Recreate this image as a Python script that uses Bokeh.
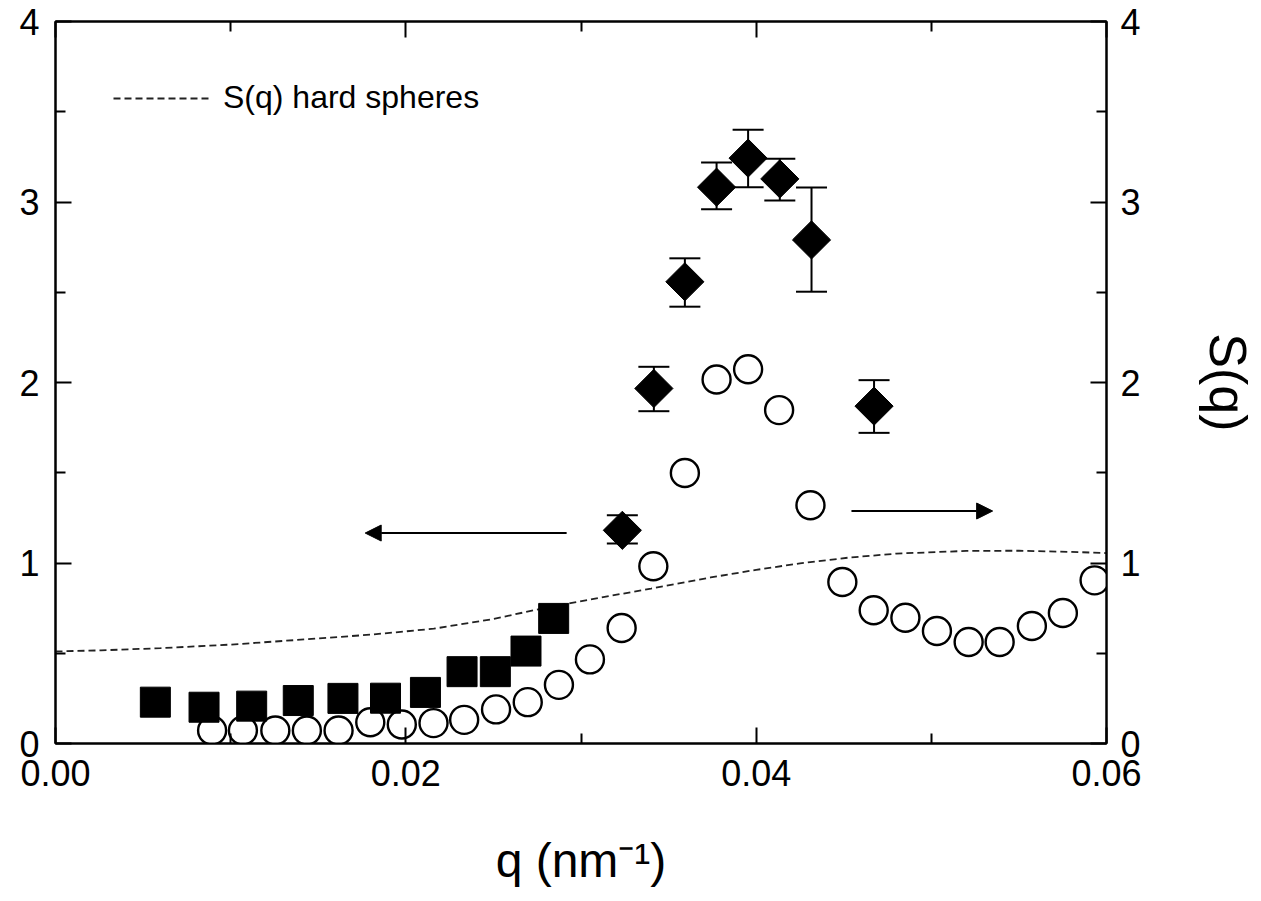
import numpy as np
from bokeh.plotting import figure
from bokeh.models import (ColumnDataSource, LinearAxis, Range1d, Whisker, TeeHead, Arrow,
                          NormalHead, Legend, LegendItem, FixedTicker,
                          PrintfTickFormatter, CustomJSTickFormatter)
from bokeh.embed import file_html
from bokeh.resources import INLINE

# ---------------- data ----------------
# hard-sphere structure factor (dashed curve)
hs_q = [0.0, 0.0026, 0.006, 0.010, 0.014, 0.018, 0.0216, 0.025, 0.0273, 0.0294,
        0.0311, 0.034, 0.0374, 0.040, 0.0425, 0.0453, 0.048, 0.052, 0.055, 0.0585, 0.060]
hs_s = [0.510, 0.516, 0.528, 0.548, 0.575, 0.603, 0.636, 0.690, 0.738, 0.778,
        0.808, 0.858, 0.920, 0.962, 0.998, 1.030, 1.052, 1.067, 1.068, 1.060, 1.055]

# filled squares (left axis)
sq_q = [0.00570, 0.00848, 0.01120, 0.01386, 0.01641, 0.01884, 0.02112, 0.02321,
        0.02511, 0.02686, 0.02844]
sq_s = [0.229, 0.201, 0.207, 0.238, 0.250, 0.251, 0.283, 0.398, 0.398, 0.512, 0.693]

# filled diamonds with error bars (left axis)
dm_q = [0.03236, 0.03416, 0.03593, 0.03774, 0.03954, 0.04135, 0.04316, 0.04673]
dm_s = [1.181, 1.967, 2.558, 3.082, 3.243, 3.128, 2.790, 1.869]
dm_hi = [1.265, 2.087, 2.688, 3.219, 3.400, 3.239, 3.080, 2.013]
dm_lo = [1.108, 1.841, 2.420, 2.960, 3.082, 3.008, 2.503, 1.721]

# open circles (right axis, S(q))
oc_q = [0.00894, 0.01070, 0.01255, 0.01435, 0.01616, 0.01797, 0.01977, 0.02158,
        0.02333, 0.02515, 0.02696, 0.02874, 0.03051, 0.03232, 0.03413, 0.03593,
        0.03774, 0.03954, 0.04131, 0.04310, 0.04492, 0.04671, 0.04852, 0.05032,
        0.05213, 0.05390, 0.05574, 0.05751, 0.05932, 0.06112]
oc_s = [0.072, 0.072, 0.072, 0.072, 0.072, 0.118, 0.105, 0.113, 0.131, 0.189,
        0.229, 0.325, 0.466, 0.640, 0.982, 1.499, 2.017, 2.073, 1.847, 1.320,
        0.895, 0.738, 0.697, 0.623, 0.562, 0.562, 0.651, 0.723, 0.904, 1.006]

x_ticks = [0.0, 0.02, 0.04, 0.06]
x_minor = [0.01, 0.03, 0.05]
y_ticks = [0, 1, 2, 3, 4]
y_minor = [0.5, 1.5, 2.5, 3.5]

# arrows: (x_start, x_end, y)
arrow_left = (0.02918, 0.01768, 1.166)
arrow_right = (0.04544, 0.05350, 1.288)

x_label = "q (nm\u207b\u00b9)"
y2_label = "S(q)"
legend_label = "S(q) hard spheres"

FONT = "Liberation Sans"

p = figure(width=1261, height=901, x_range=Range1d(0, 0.06), y_range=Range1d(0, 4),
           output_backend="svg", toolbar_location=None,
           min_border_left=55, min_border_right=155, min_border_top=21, min_border_bottom=158)
p.xgrid.visible = False
p.ygrid.visible = False
p.outline_line_color = "black"
p.outline_line_width = 2
p.background_fill_color = "white"
p.border_fill_color = "white"

p.add_layout(LinearAxis(), "above")
p.add_layout(LinearAxis(), "right")

def style(ax, ticks, minor, show_labels=True):
    ax.ticker = FixedTicker(ticks=ticks, minor_ticks=minor)
    ax.axis_line_color = "black"
    ax.axis_line_width = 2
    ax.major_tick_in = 16
    ax.major_tick_out = 0
    ax.minor_tick_in = 10
    ax.minor_tick_out = 0
    ax.major_tick_line_width = 2
    ax.minor_tick_line_width = 2
    ax.major_tick_line_color = "black"
    ax.minor_tick_line_color = "black"
    ax.major_label_text_font = FONT
    ax.major_label_text_font_size = "36px"
    ax.major_label_text_color = "black"
    ax.axis_label_text_font = FONT
    ax.axis_label_text_font_style = "normal"
    ax.axis_label_text_color = "black"
    if not show_labels:
        ax.formatter = CustomJSTickFormatter(code="return ''")

for ax in p.below:
    style(ax, x_ticks, x_minor)
    ax.formatter = PrintfTickFormatter(format="%.2f")
    ax.major_label_standoff = 16
    ax.axis_label = x_label
    ax.axis_label_text_font_size = "48px"
    ax.axis_label_standoff = 45
for ax in p.above:
    style(ax, x_ticks, x_minor, show_labels=False)
    ax.major_label_standoff = 0
for ax in p.left:
    style(ax, y_ticks, y_minor)
    ax.major_label_standoff = 16
for ax in p.right:
    style(ax, y_ticks, y_minor)
    ax.major_label_standoff = 14
    ax.axis_label = y2_label
    ax.axis_label_text_font_size = "52px"
    ax.axis_label_standoff = 55

# hard spheres dashed curve
hs = p.line(hs_q, hs_s, line_color="#222222", line_width=1.8, line_dash="7 4")

# open circles (right axis)
p.scatter(oc_q, oc_s, marker="circle", size=28, fill_color="white",
          line_color="black", line_width=2.4)

# squares (left axis)
p.scatter(sq_q, sq_s, marker="square", size=30, fill_color="black",
          line_color="black", line_width=1)

# diamonds with error bars
dsrc = ColumnDataSource(dict(q=dm_q, s=dm_s, hi=dm_hi, lo=dm_lo))
wh = Whisker(source=dsrc, base="q", upper="hi", lower="lo", dimension="height",
             line_color="black", line_width=2,
             upper_head=TeeHead(size=31, line_width=2, line_color="black"),
             lower_head=TeeHead(size=31, line_width=2, line_color="black"),
             level="underlay")
p.add_layout(wh)
p.scatter("q", "s", source=dsrc, marker="square", angle=np.pi / 4, size=27,
          fill_color="black", line_color="black", line_width=1)

# arrows
for xs, xe, ya in (arrow_left, arrow_right):
    p.add_layout(Arrow(x_start=xs, y_start=ya, x_end=xe, y_end=ya, line_width=2,
                       line_color="black",
                       end=NormalHead(size=16, fill_color="black", line_color="black",
                                      line_width=1)))

# legend
leg = Legend(items=[LegendItem(label=legend_label, renderers=[hs])],
             location=(58, 627), glyph_width=97, glyph_height=20,
             label_standoff=13, label_text_font=FONT, label_text_font_size="32px",
             label_text_color="black",
             padding=0, margin=0, spacing=0, border_line_alpha=0,
             background_fill_alpha=0)
p.add_layout(leg)

open("out.html", "w").write(file_html(p, INLINE))
